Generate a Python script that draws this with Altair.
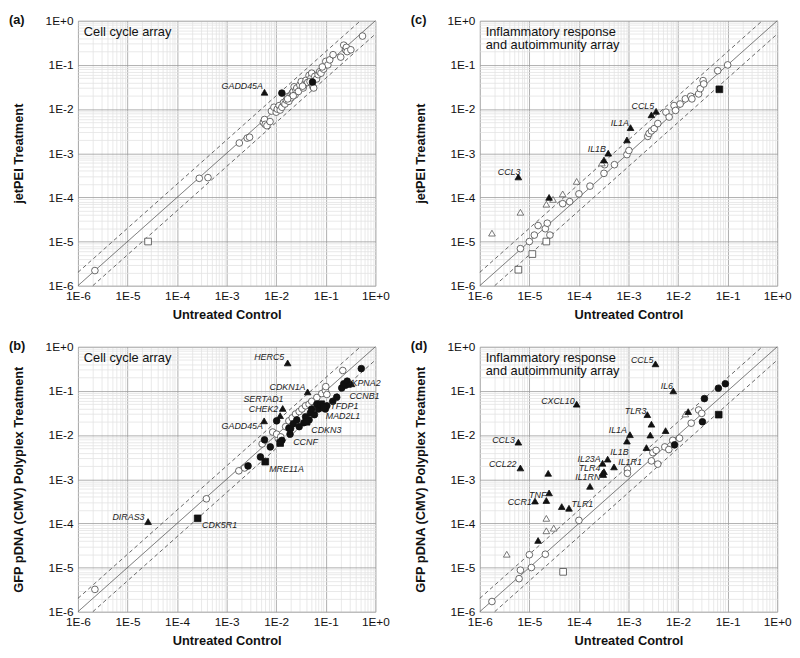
import altair as alt
import pandas as pd

FONT = "Liberation Sans"

# ---------------- data ----------------
# types: oc open circle, fc filled circle, ot open triangle, ft filled triangle, os open square, fs filled square

a_oc = [(2.2e-6, 2.2e-6), (2.8e-4, 2.7e-4), (4.2e-4, 2.8e-4), (1.8e-3, 1.7e-3), (2.6e-3, 2.2e-3),
        (2.9e-3, 2.3e-3), (5.5e-3, 5.0e-3), (5.8e-3, 5.8e-3), (6.0e-3, 4.5e-3), (6.5e-3, 4.2e-3),
        (7.5e-3, 5.2e-3), (8e-3, 9e-3), (9e-3, 1.1e-2), (1.0e-2, 8.5e-3), (1.05e-2, 1.0e-2),
        (1.15e-2, 1.2e-2), (1.2e-2, 9.5e-3), (1.3e-2, 1.1e-2), (1.4e-2, 1.4e-2), (1.5e-2, 1.3e-2),
        (1.6e-2, 1.6e-2), (1.7e-2, 1.9e-2), (1.8e-2, 1.5e-2), (1.9e-2, 2.0e-2), (2.0e-2, 1.8e-2),
        (2.1e-2, 2.3e-2), (2.2e-2, 2.5e-2), (2.3e-2, 3.2e-2), (2.4e-2, 2.1e-2), (2.5e-2, 2.7e-2),
        (2.6e-2, 3.0e-2), (2.8e-2, 2.5e-2), (3.0e-2, 3.5e-2), (3.2e-2, 4.2e-2), (3.5e-2, 3.0e-2),
        (3.8e-2, 3.8e-2), (4.0e-2, 4.5e-2), (4.3e-2, 4.0e-2), (4.6e-2, 5.8e-2), (5.0e-2, 5.0e-2),
        (5.2e-2, 6.5e-2), (5.5e-2, 3.2e-2), (5.7e-2, 3.0e-2), (6.0e-2, 5.5e-2), (6.5e-2, 4.8e-2),
        (7.0e-2, 6.0e-2), (7.5e-2, 7.0e-2), (8.0e-2, 6.5e-2), (9.0e-2, 8.0e-2), (1.0e-1, 1.2e-1),
        (1.1e-1, 1.0e-1), (1.2e-1, 1.3e-1), (1.4e-1, 1.7e-1), (2.0e-1, 1.5e-1), (2.3e-1, 2.8e-1),
        (2.5e-1, 2.2e-1), (2.6e-1, 2.5e-1), (2.7e-1, 2.0e-1), (3.2e-1, 2.2e-1), (5.5e-1, 4.5e-1),
        (2.2e-2, 2.0e-2), (3.4e-2, 3.3e-2), (4.8e-2, 4.2e-2), (8.5e-2, 9.0e-2), (1.7e-2, 1.7e-2)]
a_fc = [(1.3e-2, 2.3e-2), (5.4e-2, 4.1e-2)]
a_ft = [(5.8e-3, 2.4e-2)]
a_os = [(2.6e-5, 1.0e-5)]

b_oc = [(2.2e-6, 3.2e-6), (3.9e-4, 3.6e-4), (1.76e-3, 1.55e-3), (2.3e-3, 1.8e-3), (5.2e-3, 6.3e-3),
        (8.5e-3, 1.17e-2), (1.1e-2, 8.3e-3), (1.02e-2, 1.05e-2), (1.23e-2, 9.1e-3), (1.55e-2, 1.55e-2),
        (1.8e-2, 2.1e-2), (2.1e-2, 2.45e-2), (2.45e-2, 3.0e-2), (2.9e-2, 3.4e-2), (3.3e-2, 3.9e-2),
        (3.9e-2, 4.6e-2), (4.6e-2, 5.0e-2), (5.2e-2, 5.8e-2), (6.6e-2, 7.1e-2), (8.3e-2, 8.7e-2),
        (9.8e-2, 1.02e-1), (1.05e-1, 8.3e-2), (1.0e-1, 1.25e-1), (2.2e-1, 2.9e-1)]
b_fc = [(2.7e-3, 2.0e-3), (4.8e-3, 3.2e-3), (7.6e-3, 5.4e-3), (5.8e-3, 7.8e-3), (1.02e-2, 2.1e-2),
        (1.3e-2, 7.6e-3), (1.9e-2, 1.05e-2), (1.95e-2, 1.4e-2), (1.8e-2, 1.43e-2), (2.2e-2, 1.8e-2),
        (2.6e-2, 2.2e-2), (2.9e-2, 1.55e-2), (3.6e-2, 1.9e-2), (3.9e-2, 2.6e-2), (4.6e-2, 2.2e-2),
        (4.9e-2, 3.2e-2), (5.2e-2, 3.9e-2), (5.9e-2, 2.9e-2), (6.6e-2, 5.0e-2), (7.1e-2, 3.9e-2),
        (8.3e-2, 4.6e-2), (9.8e-2, 3.9e-2), (1.05e-1, 4.6e-2), (1.38e-1, 5.8e-2), (1.66e-1, 7.2e-2),
        (2.1e-1, 1.17e-1), (2.3e-1, 1.45e-1), (2.5e-1, 1.35e-1), (2.7e-1, 1.66e-1), (5.2e-1, 3.2e-1)]
b_ft = [(2.6e-5, 1.1e-4), (5.7e-3, 2.1e-2), (1.2e-2, 2.75e-2), (1.35e-2, 4.0e-2), (4.3e-2, 9.5e-2),
        (1.7e-2, 4.3e-1), (3.3e-1, 1.45e-1), (2.8e-1, 1.4e-1)]
b_fs = [(2.6e-4, 1.3e-4), (6.0e-3, 2.5e-3), (1.2e-2, 6.6e-3), (4.1e-2, 2.0e-2), (8.1e-2, 5.0e-2),
        (8.9e-2, 4.2e-2)]

c_oc = [(6.6e-6, 6.9e-6), (1.0e-5, 1.0e-5), (1.26e-5, 1.4e-5), (1.5e-5, 2.3e-5), (2.1e-5, 1.95e-5),
        (2.3e-5, 2.6e-5), (2.6e-5, 1.4e-5), (4.7e-5, 7.2e-5), (6.5e-5, 8.0e-5), (1.0e-4, 1.2e-4),
        (1.67e-4, 1.8e-4), (3.2e-4, 3.5e-4), (3.3e-4, 5.5e-4), (5.2e-4, 5.5e-4), (9.3e-4, 9.3e-4),
        (1.02e-3, 1.15e-3), (2.45e-3, 2.4e-3), (2.6e-3, 2.8e-3), (2.9e-3, 3.2e-3), (3.3e-3, 3.6e-3),
        (3.9e-3, 4.7e-3), (5.7e-3, 8.5e-3), (6.6e-3, 6.6e-3), (8.3e-3, 1.2e-2), (8.9e-3, 9.3e-3),
        (1.1e-2, 1.3e-2), (1.4e-2, 1.7e-2), (1.8e-2, 1.95e-2), (1.9e-2, 1.7e-2), (2.6e-2, 2.2e-2),
        (2.8e-2, 2.9e-2), (3.2e-2, 4.4e-2), (3.3e-2, 3.7e-2), (6.3e-2, 7.4e-2), (1.0e-1, 1.0e-1)]
c_ot = [(1.76e-6, 1.55e-5), (6.6e-6, 4.6e-5), (2.2e-5, 7.0e-5), (3.0e-5, 9.0e-5), (4.7e-5, 1.2e-4),
        (9.0e-5, 2.3e-4), (2.9e-4, 6.0e-4)]
c_ft = [(6.0e-6, 2.9e-4), (2.5e-5, 1.0e-4), (3.2e-4, 7.0e-4), (3.9e-4, 1.0e-3), (9.3e-4, 2.0e-3),
        (1.1e-3, 3.8e-3), (2.9e-3, 7.4e-3), (3.6e-3, 8.9e-3)]
c_os = [(6.0e-6, 2.3e-6), (1.15e-5, 5.2e-6), (2.2e-5, 1.0e-5)]
c_fs = [(6.8e-2, 2.8e-2)]

d_oc = [(1.76e-6, 1.7e-6), (6.2e-6, 5.6e-6), (6.6e-6, 8.7e-6), (1.0e-5, 1.95e-5), (1.1e-5, 1.0e-5),
        (2.1e-5, 2.0e-5), (1.0e-4, 1.17e-4), (9.5e-4, 1.7e-3), (9.5e-4, 1.36e-3), (2.9e-3, 2.6e-3),
        (3.1e-3, 4.0e-3), (3.6e-3, 4.5e-3), (3.9e-3, 2.2e-3), (5.4e-3, 5.4e-3), (6.5e-3, 4.7e-3),
        (7.8e-3, 7.6e-3), (1.07e-2, 8.5e-3), (1.84e-2, 1.86e-2), (2.6e-2, 3.7e-2), (3.0e-2, 3.1e-2)]
d_ot = [(3.5e-6, 2.0e-5), (2.2e-5, 6.8e-5), (2.2e-5, 1.3e-4), (3.1e-5, 7.8e-5), (1.4e-2, 3.0e-2)]
d_ft = [(6.0e-6, 6.9e-3), (6.6e-6, 1.8e-3), (1.3e-5, 3.2e-4), (1.5e-5, 4.1e-5), (2.2e-5, 3.3e-4),
        (2.4e-5, 1.36e-3), (2.5e-5, 4.9e-4), (4.5e-5, 2.4e-4), (6.3e-5, 2.2e-4), (9.0e-5, 5.0e-2),
        (1.67e-4, 6.9e-4), (3.0e-4, 1.37e-3), (3.2e-4, 1.48e-3), (3.1e-4, 1.28e-3), (3.0e-4, 2.3e-3),
        (3.8e-4, 2.85e-3), (5.1e-4, 1.9e-3), (9.3e-4, 7.3e-3), (1.07e-3, 1.02e-2), (2.4e-3, 2.9e-2),
        (2.9e-3, 1.76e-2), (2.75e-3, 1.0e-2), (2.3e-3, 5.2e-3), (3.5e-3, 4.1e-1), (5.6e-3, 1.26e-2),
        (8.0e-3, 1.0e-1), (1.6e-2, 3.4e-2)]
d_os = [(4.8e-5, 8.0e-6)]
d_fc = [(8.5e-3, 6.0e-3), (3.1e-2, 2.0e-2), (3.4e-2, 6.7e-2), (6.5e-2, 1.15e-1), (9.0e-2, 1.45e-1)]
d_fs = [(6.6e-2, 2.9e-2)]

# gene labels: (text, x, y, align)
a_labels = [("GADD45A", 5.4e-3, 3.36e-2, "right")]
b_labels = [("HERC5", 1.45e-2, 0.60, "right"), ("CDKN1A", 3.9e-2, 0.122, "right"),
            ("SERTAD1", 1.4e-2, 6.4e-2, "right"), ("CHEK2", 1.1e-2, 3.9e-2, "right"),
            ("GADD45A", 5.4e-3, 1.58e-2, "right"), ("KPNA2", 0.33, 0.150, "left"),
            ("CCNB1", 0.30, 7.6e-2, "left"), ("TFDP1", 0.123, 4.5e-2, "left"),
            ("MAD2L1", 0.10, 2.7e-2, "left"), ("CDKN3", 5.1e-2, 1.33e-2, "left"),
            ("CCNF", 2.2e-2, 6.9e-3, "left"), ("MRE11A", 7.2e-3, 1.67e-3, "left"),
            ("DIRAS3", 2.2e-5, 1.39e-4, "right"), ("CDK5R1", 3.2e-4, 9.2e-5, "left")]
c_labels = [("CCL3", 6.6e-6, 3.8e-4, "right"), ("IL1B", 3.5e-4, 1.26e-3, "right"),
            ("IL1A", 1.02e-3, 4.7e-3, "right"), ("CCL5", 3.3e-3, 1.2e-2, "right")]
d_labels = [("CCL5", 3.2e-3, 0.51, "right"), ("IL6", 7.9e-3, 0.129, "right"),
            ("CXCL10", 8.2e-5, 5.9e-2, "right"), ("TLR3", 2.3e-3, 3.55e-2, "right"),
            ("IL1A", 9.3e-4, 1.32e-2, "right"), ("CCL3", 5.1e-6, 7.8e-3, "right"),
            ("CCL22", 5.5e-6, 2.17e-3, "right"), ("IL23A", 2.75e-4, 2.9e-3, "right"),
            ("IL1B", 4.3e-4, 4.1e-3, "left"), ("IL1R1", 6.2e-4, 2.4e-3, "left"),
            ("TLR4", 2.7e-4, 1.78e-3, "right"), ("IL1RN", 2.7e-4, 1.1e-3, "right"),
            ("TNF", 2.2e-5, 4.3e-4, "right"), ("CCR1", 1.12e-5, 3.0e-4, "right"),
            ("TLR1", 7.1e-5, 2.7e-4, "left")]

# reference lines y = x, y = 2x, y = x/2
guide_x1 = [1e-6, 1e-6, 2e-6]
guide_y1 = [1e-6, 2e-6, 1e-6]
guide_x2 = [1.0, 0.5, 1.0]
guide_y2 = [1.0, 1.0, 0.5]
guide_style = ["solid", "dashed", "dashed"]

TICKS = [m * 10.0 ** k for k in range(-6, 0) for m in range(1, 10)] + [1.0]

# ---------------- chart ----------------
LOGV = "(log(datum.value)/LN10)"
MAJOR = f"abs({LOGV} - round({LOGV})) < 0.01"
LABEL_EXPR = f"({MAJOR}) ? ('1E' + (round({LOGV}) < 0 ? '-' : '+') + abs(round({LOGV}))) : ''"

TYPES = ["oc", "fc", "ot", "ft", "os", "fs"]


def make_axis(title, pad):
    return alt.Axis(
        title=title, values=TICKS, labelExpr=LABEL_EXPR, grid=True,
        gridColor={"condition": {"test": MAJOR, "value": "#9a9a9a"}, "value": "#e3e3e3"},
        gridWidth=0.8, domain=False, ticks=False, labelFlush=False, labelOverlap=False,
        labelFont=FONT, labelFontSize=12, labelColor="#111", labelPadding=5,
        titleFont=FONT, titleFontSize=13, titleFontWeight="bold", titleColor="#111",
        titlePadding=pad,
    )


def make_panel(series, labels, letter, title, ytitle):
    rows = [dict(x=x, y=y, t=t) for t, pts in series.items() for x, y in pts]
    df = pd.DataFrame(rows)
    ldf = pd.DataFrame(labels, columns=["name", "lx", "ly", "al"])
    gdf = pd.DataFrame(dict(x1=guide_x1, y1=guide_y1, x2=guide_x2, y2=guide_y2, s=guide_style))
    xs = alt.Scale(type="log", domain=[1e-6, 1], nice=False)
    ys = alt.Scale(type="log", domain=[1e-6, 1], nice=False)
    xa = make_axis("Untreated Control", 7)
    ya = make_axis(ytitle, 20)

    guides = alt.Chart(gdf).mark_rule(color="#555", strokeWidth=0.9).encode(
        x=alt.X("x1:Q", scale=xs, axis=xa), y=alt.Y("y1:Q", scale=ys, axis=ya),
        x2="x2:Q", y2="y2:Q",
        strokeDash=alt.StrokeDash("s:N", scale=alt.Scale(domain=["solid", "dashed"], range=[[1, 0], [4, 3]]),
                                  legend=None),
    )
    points = alt.Chart(df).mark_point(strokeWidth=0.8, opacity=1, filled=False).encode(
        x=alt.X("x:Q", scale=xs, axis=xa), y=alt.Y("y:Q", scale=ys, axis=ya),
        shape=alt.Shape("t:N", scale=alt.Scale(domain=TYPES, range=["circle", "circle", "triangle-up",
                                                                    "triangle-up", "square", "square"]),
                        legend=None),
        fill=alt.Fill("t:N", scale=alt.Scale(domain=TYPES, range=["white", "#111", "white", "#111",
                                                                  "white", "#111"]), legend=None),
        stroke=alt.Stroke("t:N", scale=alt.Scale(domain=TYPES, range=["#444", "#111", "#555", "#111",
                                                                      "#444", "#111"]), legend=None),
        size=alt.Size("t:N", scale=alt.Scale(domain=TYPES, range=[46, 46, 40, 40, 44, 44]), legend=None),
    )
    layers = [guides, points]
    for al in ["left", "right"]:
        layers.append(
            alt.Chart(ldf).transform_filter(f"datum.al == '{al}'").mark_text(
                align=al, baseline="middle", font=FONT, fontSize=9, fontStyle="italic", color="#222"
            ).encode(x=alt.X("lx:Q", scale=xs, axis=xa), y=alt.Y("ly:Q", scale=ys, axis=ya), text="name:N")
        )
    layers.append(
        alt.Chart(pd.DataFrame({"t": [title]})).mark_text(
            align="left", baseline="top", font=FONT, fontSize=13, lineBreak="\n", lineHeight=14, color="#111"
        ).encode(x=alt.value(6), y=alt.value(5), text="t:N")
    )
    layers.append(
        alt.Chart(pd.DataFrame({"t": [letter]})).mark_text(
            align="left", baseline="middle", font=FONT, fontSize=13, fontWeight="bold", color="#111"
        ).encode(x=alt.value(-70), y=alt.value(-1), text="t:N")
    )
    return alt.layer(*layers).properties(width=302, height=269)


pa = make_panel({"oc": a_oc, "fc": a_fc, "ft": a_ft, "os": a_os}, a_labels, "(a)",
                "Cell cycle array", "jetPEI Treatment")
pb = make_panel({"oc": b_oc, "fc": b_fc, "ft": b_ft, "fs": b_fs}, b_labels, "(b)",
                "Cell cycle array", "GFP pDNA (CMV) Polyplex Treatment")
pc = make_panel({"oc": c_oc, "ot": c_ot, "ft": c_ft, "os": c_os, "fs": c_fs}, c_labels, "(c)",
                "Inflammatory response\nand autoimmunity array", "jetPEI Treatment")
pd_ = make_panel({"oc": d_oc, "ot": d_ot, "ft": d_ft, "os": d_os, "fc": d_fc, "fs": d_fs}, d_labels, "(d)",
                 "Inflammatory response\nand autoimmunity array", "GFP pDNA (CMV) Polyplex Treatment")

chart = alt.concat(pa, pc, pb, pd_, columns=2, spacing={"row": 17, "column": 20}).properties(
    padding={"left": 0, "top": 0, "right": 0, "bottom": 0}, background="white"
).configure_view(stroke="#888", strokeWidth=1).configure(font=FONT)

chart.save("out.html", embed_options={"renderer": "svg", "actions": False})
